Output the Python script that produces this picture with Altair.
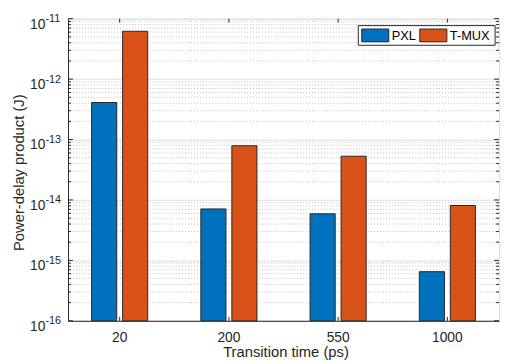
import altair as alt
import pandas as pd

# ---- data ----
categories = ["20", "200", "550", "1000"]
series = ["PXL", "T-MUX"]
pxl = [4.1e-13, 7.1e-15, 5.9e-15, 6.5e-16]
tmux = [6.2e-12, 7.9e-14, 5.3e-14, 8.1e-15]
colors = ["#0072BD", "#D95319"]

# axis decoration values
decades = [1e-16, 1e-15, 1e-14, 1e-13, 1e-12, 1e-11]
exponents = ["-16", "-15", "-14", "-13", "-12", "-11"]
minor = [m * d for d in decades[:-1] for m in range(2, 10)]

W, H = 438, 307
FONT = "Liberation Sans"
INK = "#262626"

bars_df = pd.DataFrame({
    "cat": categories * 2,
    "series": [series[0]] * len(pxl) + [series[1]] * len(tmux),
    "v": pxl + tmux,
})
dec_df = pd.DataFrame({"v": decades, "base": ["10"] * len(decades), "exp": exponents})
minor_df = pd.DataFrame({"v": minor})
cat_df = pd.DataFrame({"cat": categories})
one = pd.DataFrame({"k": [0]})

ysc = alt.Scale(type="log", domain=[1e-16, 1e-11], nice=False)
xsc = alt.Scale(domain=categories, paddingInner=0.4865, paddingOuter=0.216)

yaxis = alt.Axis(values=decades, labels=False, ticks=False, grid=True,
                 gridColor="#dcdcdc", gridWidth=1, domainColor=INK,
                 titleFont=FONT, titleFontSize=15, titleFontWeight="normal",
                 titleColor=INK, titleX=-57, titleY=156, titleAngle=270,
                 titleBaseline="top", titleAlign="center")
xaxis = alt.Axis(labelFont=FONT, labelFontSize=14, labelColor=INK, labelPadding=10,
                 labelAngle=0, ticks=False, grid=False, domainColor=INK,
                 titleFont=FONT, titleFontSize=15, titleFontWeight="normal",
                 titleColor=INK, titleX=221, titleY=36.5, titleBaseline="alphabetic")

YT = "Power-delay product (J)"
XT = "Transition time (ps)"

def Y():
    return alt.Y("v:Q", scale=ysc, axis=yaxis, title=YT)

def X():
    return alt.X("cat:N", scale=xsc, axis=xaxis, title=XT, sort=categories)

minor_grid = alt.Chart(minor_df).mark_rule(
    color="#bdbdbd", strokeDash=[1, 2], strokeWidth=1
).encode(y=Y())

bars = alt.Chart(bars_df).mark_bar(stroke=INK, strokeWidth=1).encode(
    x=X(),
    xOffset=alt.XOffset("series:N", sort=series,
                        scale=alt.Scale(paddingInner=0.19, paddingOuter=0)),
    y=Y(),
    y2=alt.datum(1e-16),
    color=alt.Color("series:N", sort=series,
                    scale=alt.Scale(domain=series, range=colors), legend=None),
)

# inward ticks
ytick_major_l = alt.Chart(dec_df).mark_rule(color=INK).encode(
    y=Y(), x=alt.value(0), x2=alt.value(5))
ytick_major_r = alt.Chart(dec_df).mark_rule(color=INK).encode(
    y=Y(), x=alt.value(W), x2=alt.value(W - 5))
ytick_minor_l = alt.Chart(minor_df).mark_rule(color=INK).encode(
    y=Y(), x=alt.value(0), x2=alt.value(3))
ytick_minor_r = alt.Chart(minor_df).mark_rule(color=INK).encode(
    y=Y(), x=alt.value(W), x2=alt.value(W - 3))
xtick_b = alt.Chart(cat_df).mark_rule(color=INK).encode(
    x=X(), y=alt.value(H), y2=alt.value(H - 4))
xtick_t = alt.Chart(cat_df).mark_rule(color=INK).encode(
    x=X(), y=alt.value(0), y2=alt.value(4))

# y tick labels: 10 with superscript exponent
lab_base = alt.Chart(dec_df).mark_text(
    align="right", baseline="alphabetic", dy=10, fontSize=14, font=FONT, color=INK
).encode(y=Y(), x=alt.value(-23), text="base:N")
lab_exp = alt.Chart(dec_df).mark_text(
    align="left", baseline="alphabetic", dy=3.5, fontSize=11, font=FONT, color=INK
).encode(y=Y(), x=alt.value(-23), text="exp:N")

# legend (MATLAB style box with wide swatches)
leg_layers = [
    alt.Chart(one).mark_rect(fill="white", stroke=INK, strokeWidth=1).encode(
        x=alt.value(295), x2=alt.value(434), y=alt.value(7), y2=alt.value(27))
]
sw_x = [298.5, 357.5]
tx_x = [329, 388]
for i, s in enumerate(series):
    leg_layers.append(
        alt.Chart(one).mark_rect(fill=colors[i], stroke=INK, strokeWidth=1).encode(
            x=alt.value(sw_x[i]), x2=alt.value(sw_x[i] + 27.5),
            y=alt.value(10.5), y2=alt.value(23.5)))
    leg_layers.append(
        alt.Chart(one).mark_text(text=s, align="left", baseline="alphabetic",
                                 fontSize=13, font=FONT, color="black").encode(
            x=alt.value(tx_x[i]), y=alt.value(21.8)))

chart = alt.layer(
    minor_grid, bars, ytick_major_l, ytick_major_r, ytick_minor_l, ytick_minor_r,
    xtick_b, xtick_t, lab_base, lab_exp, *leg_layers
).properties(
    width=W, height=H,
    autosize=alt.AutoSizeParams(type="none"),
    padding={"left": 61, "top": 8, "right": 1, "bottom": 40},
).configure_view(
    stroke=INK, strokeWidth=1
).configure(background="white")

chart.save("out.html", embed_options={"renderer": "svg", "actions": False})
